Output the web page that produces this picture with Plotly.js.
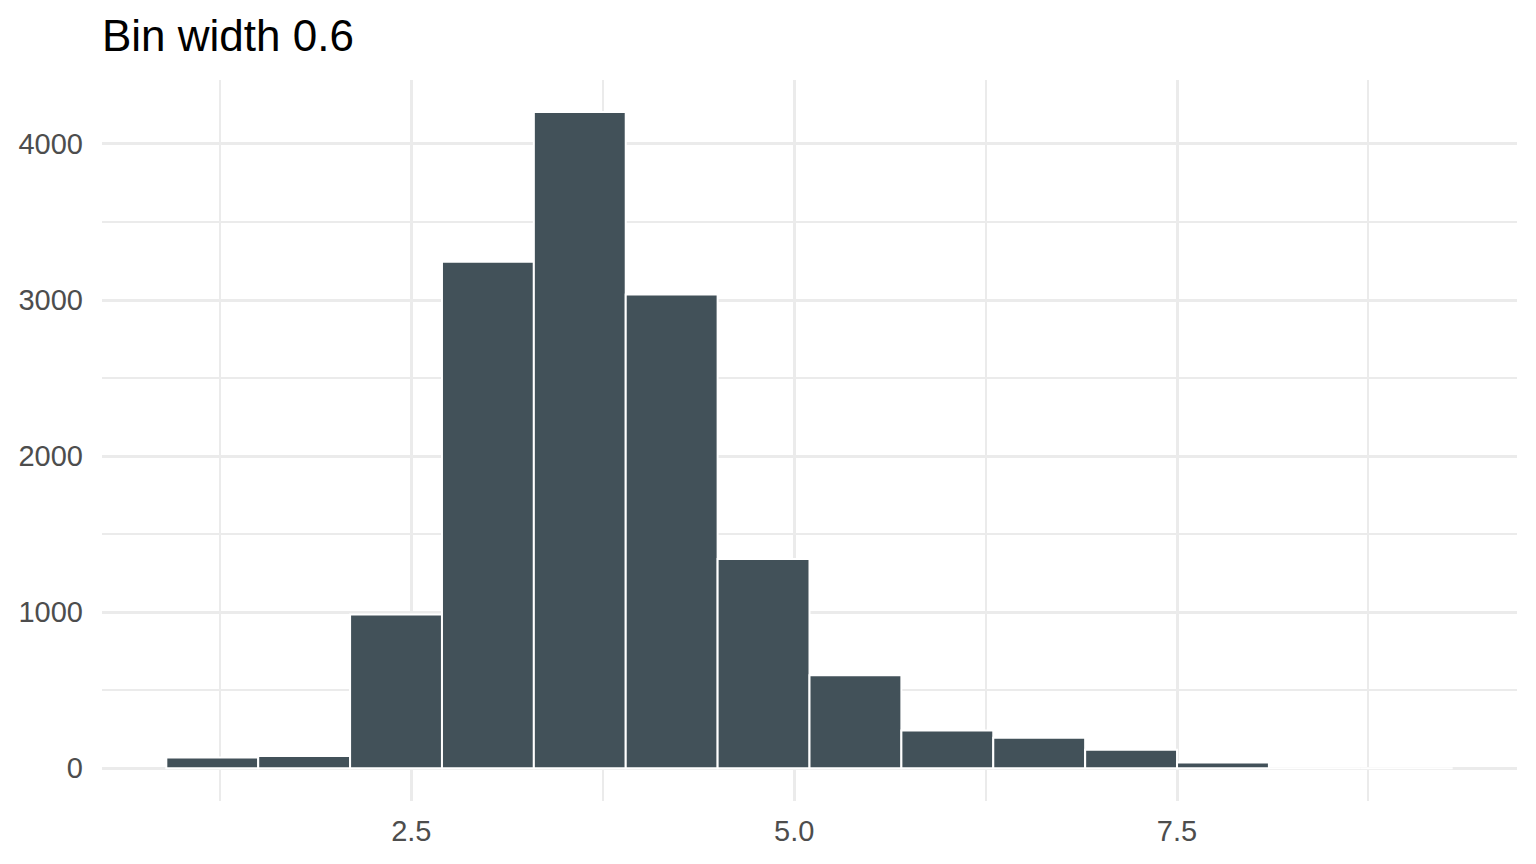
<!DOCTYPE html>
<html>
<head>
<meta charset="utf-8">
<script src="https://cdn.plot.ly/plotly-3.0.1.min.js"></script>
<style>
  html, body { margin: 0; padding: 0; background: #fff; }
  #hist { width: 1536px; height: 864px; }
</style>
</head>
<body>
<div id="hist"></div>
<script>
// bin centres (bin width 0.6, first bin 0.9-1.5)
var binMids = [1.2, 1.8, 2.4, 3.0, 3.6, 4.2, 4.8, 5.4, 6.0, 6.6, 7.2, 7.8, 8.4, 9.0];
var counts = [68, 78, 985, 3245, 4205, 3035, 1340, 595, 242, 195, 118, 36, 0, 0];
var binWidth = 0.6;

var xTicks = [2.5, 5.0, 7.5];
var xTickText = ['2.5', '5.0', '7.5'];
var yTicks = [0, 1000, 2000, 3000, 4000];

var gridColor = '#EBEBEB';

var data = [{
  type: 'bar',
  x: binMids,
  y: counts,
  width: binWidth,
  marker: {
    color: '#425159',
    line: {color: '#FFFFFF', width: 2}
  },
  hoverinfo: 'x+y'
}];

var layout = {
  width: 1536,
  height: 864,
  paper_bgcolor: '#FFFFFF',
  plot_bgcolor: '#FFFFFF',
  margin: {l: 102, r: 19, t: 80, b: 63, pad: 0},
  showlegend: false,
  bargap: 0,
  font: {family: 'Liberation Sans, Arial, sans-serif', color: '#4D4D4D'},
  title: {
    text: 'Bin width 0.6',
    font: {size: 44, color: '#000000'},
    x: 0, xref: 'paper', xanchor: 'left',
    y: 1, yref: 'container', yanchor: 'top', pad: {t: 20}
  },
  xaxis: {
    range: [0.48, 9.72],
    tickvals: xTicks,
    ticktext: xTickText,
    ticks: '',
    showgrid: true,
    gridcolor: gridColor,
    gridwidth: 3,
    zeroline: false,
    showline: false,
    tickfont: {size: 29, color: '#4D4D4D'},
    ticklabelstandoff: 10,
    minor: {tickvals: [1.25, 3.75, 6.25, 8.75], showgrid: true, gridcolor: gridColor, gridwidth: 2}
  },
  yaxis: {
    range: [-210, 4410],
    tickvals: yTicks,
    ticks: '',
    showgrid: true,
    gridcolor: gridColor,
    gridwidth: 3,
    zeroline: false,
    showline: false,
    tickfont: {size: 29, color: '#4D4D4D'},
    ticklabelstandoff: 18,
    minor: {tickvals: [500, 1500, 2500, 3500], showgrid: true, gridcolor: gridColor, gridwidth: 2}
  }
};

Plotly.newPlot('hist', data, layout, {displayModeBar: false, staticPlot: true});
</script>
</body>
</html>
